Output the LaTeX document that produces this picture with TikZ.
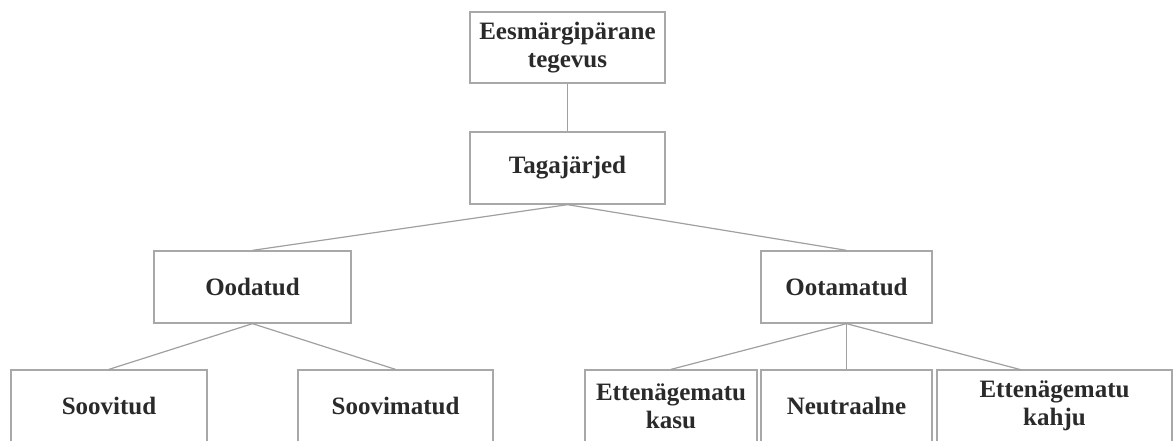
\documentclass[tikz,border=0pt]{standalone}
\usepackage{fontspec}
\setmainfont{Liberation Serif}
\begin{document}
\begin{tikzpicture}[x=1pt,y=-1pt,
  box/.style={draw=boxgray, line width=1.3pt, fill=white, inner sep=0pt, align=center,
    font=\fontsize{25}{28}\selectfont\bfseries, text=textdark},
  conn/.style={draw=linegray, line width=1.2pt}]
\definecolor{boxgray}{HTML}{A8A8A8}
\definecolor{linegray}{HTML}{A0A0A0}
\definecolor{textdark}{HTML}{2A2A2A}
\useasboundingbox (0,0) rectangle (1175,440);
\clip (0,0) rectangle (1175,440);
\node[box, minimum width=195pt, minimum height=71pt] (top) at (567.5,47.5) {Eesmärgipärane\\tegevus};
\node[box, minimum width=195pt, minimum height=72pt] (tag) at (567.5,168) {Tagajärjed};
\node[box, minimum width=197pt, minimum height=72pt] (ood) at (252.5,287) {Oodatud};
\node[box, minimum width=171pt, minimum height=72pt] (oot) at (846.5,287) {Ootamatud};
\node[box, minimum width=196pt, minimum height=72pt] (sv) at (109,406) {Soovitud};
\node[box, minimum width=195pt, minimum height=72pt] (sm) at (395.5,406) {Soovimatud};
\node[box, minimum width=172pt, minimum height=72pt] (kasu) at (671,406) {Ettenägematu\\kasu};
\node[box, minimum width=171pt, minimum height=72pt] (neu) at (846.5,406) {Neutraalne};
\node[box, minimum width=235pt, minimum height=72pt] (kahju) at (1054.5,406) {Ettenägematu\\kahju};
\coordinate (kj) at (1022,370);
\draw[conn] (top.south) -- (tag.north);
\draw[conn] (tag.south) -- (ood.north);
\draw[conn] (tag.south) -- (oot.north);
\draw[conn] (ood.south) -- (sv.north);
\draw[conn] (ood.south) -- (sm.north);
\draw[conn] (oot.south) -- (kasu.north);
\draw[conn] (oot.south) -- (neu.north);
\draw[conn] (oot.south) -- (kj);
\end{tikzpicture}
\end{document}
